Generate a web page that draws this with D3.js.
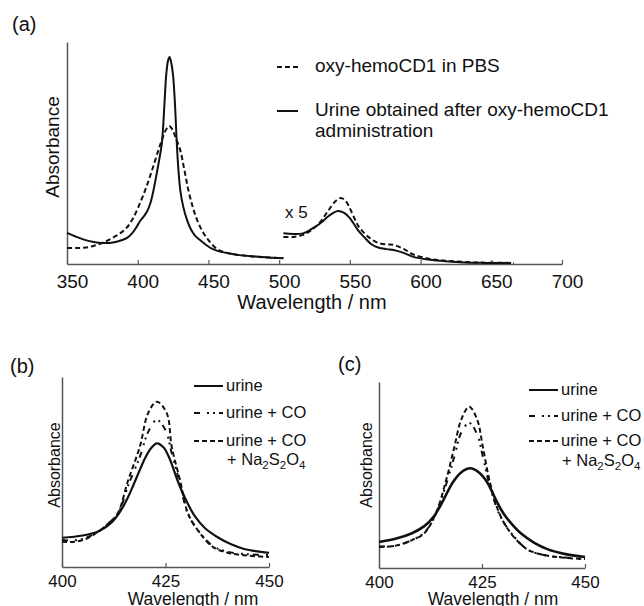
<!DOCTYPE html>
<html>
<head>
<meta charset="utf-8">
<script src="https://cdn.jsdelivr.net/npm/d3@7"></script>
<style>
  body { margin: 0; background: #fff; }
  svg { display: block; }
  text { font-family: "Liberation Sans", Arial, Helvetica, sans-serif; fill: #111; }
</style>
</head>
<body>
<div class="chart"></div>
<script>

// ---------- data (wavelength nm, absorbance in arbitrary units) ----------

// panel (a), 350-500 nm
const aPBS1 = [[350,0.072],[357,0.072],[363,0.074],[368,0.080],[372,0.088],[376,0.098],[380,0.110],[384,0.124],[388,0.140],[392,0.162],[396,0.198],[400,0.250],[405.3,0.333],[410,0.42],[414.7,0.514],[418,0.575],[420.3,0.608],[422.3,0.622],[424.3,0.608],[426.5,0.575],[430,0.514],[432.8,0.43],[435.8,0.333],[439,0.255],[442,0.198],[446,0.145],[450,0.108],[456,0.068],[462,0.052],[470,0.042],[480,0.035],[490,0.030],[503,0.027]]
const aUrine1 = [[350,0.140],[356,0.124],[362,0.110],[368,0.100],[374,0.095],[380,0.095],[385,0.100],[389,0.108],[392.5,0.118],[396,0.138],[399,0.165],[401.8,0.195],[404,0.212],[406.5,0.235],[409,0.275],[411.2,0.333],[413.5,0.41],[415.5,0.48],[417,0.54],[418,0.62],[418.8,0.71],[420.2,0.855],[421.4,0.915],[422.5,0.932],[423.6,0.91],[424.9,0.855],[426,0.76],[426.8,0.66],[427.5,0.56],[428.5,0.45],[430.1,0.333],[432.3,0.255],[434.9,0.198],[437.5,0.158],[440.5,0.128],[444,0.108],[448,0.088],[452,0.070],[457,0.058],[464,0.048],[472,0.040],[482,0.034],[492,0.029],[503,0.026]]

// panel (a), 500-700 nm (x 5)
const aPBS2 = [[503,0.122],[510,0.122],[517,0.131],[523,0.153],[529,0.189],[535,0.243],[540,0.284],[543.6,0.297],[547,0.284],[552.8,0.212],[556,0.171],[560,0.140],[565,0.113],[570,0.095],[576,0.088],[581,0.086],[588,0.068],[595,0.043],[605,0.025],[612,0.018],[620,0.014],[631,0.009],[645,0.006],[666,0.005]]
const aUrine2 = [[503,0.138],[510,0.135],[517,0.138],[523,0.158],[529.4,0.185],[535,0.216],[541.5,0.239],[546,0.230],[550,0.207],[555.7,0.153],[560,0.122],[565,0.090],[570,0.074],[576,0.067],[581,0.063],[588,0.050],[595,0.032],[605,0.020],[612,0.016],[620,0.011],[631,0.007],[645,0.005],[664,0.004]]

const aTicks = [350, 400, 450, 500, 550, 600, 650, 700]
const aLegend = ["oxy-hemoCD1 in PBS", "Urine obtained after oxy-hemoCD1", "administration"]

// panel (b)
const bUrine = [[400,0.154],[405,0.166],[409,0.19],[412,0.235],[414,0.29],[416,0.37],[418,0.47],[420,0.57],[421.5,0.625],[422.9,0.651],[424.5,0.63],[426,0.57],[428,0.45],[430,0.35],[432,0.27],[434.5,0.205],[437.5,0.158],[441,0.118],[444,0.095],[450,0.074]]
const bCO = [[400,0.142],[403,0.14],[406,0.155],[409,0.19],[411.5,0.235],[413.5,0.28],[416,0.43],[418.8,0.58],[420.8,0.71],[422.9,0.774],[425,0.72],[426.5,0.6],[428.5,0.44],[430.4,0.28],[433.3,0.18],[436.5,0.11],[440,0.08],[445,0.067],[450,0.063]]
const bCODithionite = [[400,0.133],[403,0.133],[406,0.15],[409,0.19],[411.5,0.235],[413.5,0.284],[416,0.458],[418.8,0.633],[420.8,0.81],[422.9,0.87],[425.3,0.81],[426.5,0.633],[428.5,0.458],[430.4,0.284],[433.3,0.179],[436.5,0.105],[440,0.075],[445,0.06],[450,0.053]]

// panel (c)
const cUrine = [[400,0.140],[404,0.157],[408,0.187],[411,0.225],[413.4,0.28],[415.5,0.36],[417.9,0.46],[420,0.515],[422.1,0.536],[424.2,0.515],[426.3,0.46],[428.3,0.37],[430.3,0.29],[432.3,0.235],[434.5,0.185],[437.7,0.135],[441,0.1],[445,0.076],[450,0.059]]
const cCO = [[400,0.115],[404,0.12],[408,0.15],[411,0.19],[413.8,0.29],[416.3,0.45],[418.3,0.6],[420,0.73],[421.9,0.78],[423.8,0.72],[425.2,0.6],[426.8,0.45],[429.2,0.29],[432,0.19],[436,0.1],[440,0.07],[445,0.056],[450,0.05]]
const cCODithionite = [[400,0.113],[404,0.12],[408,0.15],[411,0.187],[413.8,0.294],[416.3,0.473],[418.3,0.652],[420,0.8],[421.9,0.867],[423.8,0.8],[425.2,0.652],[426.8,0.473],[429.2,0.294],[432,0.187],[436,0.1],[440,0.07],[445,0.055],[450,0.048]]

const bcTicks = [400, 425, 450]
const bcLegend = ["urine", "urine + CO", "urine + CO"]

// ---------- drawing ----------

const svg = d3.select(".chart").append("svg")
    .attr("width", 644)
    .attr("height", 606)

const axisColor = "#555"
const dashed = "5,3"
const dashDot = "6,7,2,4,2,4"

function styleAxis(g, fontSize) {
    g.select(".domain").attr("stroke", axisColor).attr("stroke-width", 1.5)
    g.selectAll(".tick line").attr("stroke", axisColor).attr("stroke-width", 1.2)
    g.selectAll(".tick text")
        .attr("fill", "#111")
        .style("font-family", '"Liberation Sans", Arial, Helvetica, sans-serif')
        .style("font-size", fontSize + "px")
}

function drawCurve(g, data, x, y, dash, width) {
    let line = d3.line()
        .x(function (d) { return x(d[0]) })
        .y(function (d) { return y(d[1]) })
        .curve(d3.curveCatmullRom.alpha(0.5))
    g.append("path")
        .datum(data)
        .attr("fill", "none")
        .attr("stroke", "#111")
        .attr("stroke-width", width)
        .attr("stroke-dasharray", dash)
        .attr("d", line)
}

// ---- panel (a)
function PanelA() {
    let x = d3.scaleLinear().domain([350, 700]).range([67, 562])
    let y = d3.scaleLinear().domain([0, 1]).range([264, 42])
    let g = svg.append("g")

    let xAxis = d3.axisBottom(x)
        .tickValues(aTicks)
        .tickSize(-4)
        .tickSizeOuter(0)
        .tickPadding(11)
        .tickFormat(d3.format("d"))
    let gx = g.append("g")
        .attr("transform", `translate(0, ${y(0)})`)
        .call(xAxis)
    styleAxis(gx, 19)
    gx.selectAll(".tick text").attr("dx", 5)

    let gy = g.append("g")
        .attr("transform", `translate(${x(350)}, 0)`)
        .call(d3.axisLeft(y).tickValues([]).tickSizeOuter(0))
    styleAxis(gy, 19)

    drawCurve(g, aPBS1, x, y, dashed, 2)
    drawCurve(g, aUrine1, x, y, null, 2)
    drawCurve(g, aPBS2, x, y, dashed, 2)
    drawCurve(g, aUrine2, x, y, null, 2)

    g.append("text").attr("x", 285).attr("y", 218)
        .style("font-size", "17px").text("x 5")

    // legend
    g.append("line").attr("x1", 277).attr("x2", 298).attr("y1", 67).attr("y2", 67)
        .attr("stroke", "#111").attr("stroke-width", 2).attr("stroke-dasharray", dashed)
    g.append("line").attr("x1", 277).attr("x2", 298).attr("y1", 111).attr("y2", 111)
        .attr("stroke", "#111").attr("stroke-width", 2)
    g.append("text").attr("x", 315).attr("y", 72).style("font-size", "19px").text(aLegend[0])
    g.append("text").attr("x", 315).attr("y", 116).style("font-size", "19px").text(aLegend[1])
    g.append("text").attr("x", 315).attr("y", 137).style("font-size", "19px").text(aLegend[2])

    g.append("text").attr("x", 12).attr("y", 31).style("font-size", "20px").text("(a)")
    g.append("text")
        .attr("transform", "translate(59,147) rotate(-90)")
        .attr("text-anchor", "middle")
        .style("font-size", "19px")
        .text("Absorbance")
    g.append("text").attr("x", 312).attr("y", 309)
        .attr("text-anchor", "middle")
        .style("font-size", "20px")
        .text("Wavelength / nm")
}

// ---- panels (b) and (c)
function PanelBC(opts) {
    let x = d3.scaleLinear().domain([400, 450]).range([opts.x0, opts.x1])
    let y = d3.scaleLinear().domain([0, 1]).range([opts.y0, opts.y1])
    let g = svg.append("g")

    let gx = g.append("g")
        .attr("transform", `translate(0, ${opts.y0})`)
        .call(d3.axisBottom(x).tickValues(bcTicks).tickSize(-4).tickSizeOuter(0).tickPadding(8))
    styleAxis(gx, 17)

    let gy = g.append("g")
        .attr("transform", `translate(${opts.x0}, 0)`)
        .call(d3.axisLeft(y).tickValues([]).tickSizeOuter(0))
    styleAxis(gy, 17)

    drawCurve(g, opts.urine, x, y, null, opts.solidWidth)
    drawCurve(g, opts.co, x, y, dashDot, 2)
    drawCurve(g, opts.dith, x, y, dashed, 2)

    // legend
    let dashes = [null, dashDot, dashed]
    bcLegend.forEach(function (label, i) {
        g.append("line")
            .attr("x1", opts.lx).attr("x2", opts.lx + 29)
            .attr("y1", opts.rows[i]).attr("y2", opts.rows[i])
            .attr("stroke", "#111").attr("stroke-width", 2)
            .attr("stroke-dasharray", dashes[i])
        g.append("text")
            .attr("x", opts.lx + 32).attr("y", opts.rows[i] + 5)
            .style("font-size", "16.5px")
            .text(label)
    })
    let na = g.append("text")
        .attr("x", opts.lx + 33).attr("y", opts.rows[3])
        .style("font-size", "16.5px")
    na.append("tspan").text("+ Na")
    na.append("tspan").attr("dy", 4).style("font-size", "11.5px").text("2")
    na.append("tspan").attr("dy", -4).text("S")
    na.append("tspan").attr("dy", 4).style("font-size", "11.5px").text("2")
    na.append("tspan").attr("dy", -4).text("O")
    na.append("tspan").attr("dy", 4).style("font-size", "11.5px").text("4")

    g.append("text").attr("x", opts.labelX).attr("y", opts.labelY)
        .style("font-size", "20px").text(opts.label)
    g.append("text")
        .attr("transform", `translate(${opts.absX},465) rotate(-90)`)
        .attr("text-anchor", "middle")
        .style("font-size", "16px")
        .text("Absorbance")
    g.append("text").attr("x", opts.wlX).attr("y", 605)
        .attr("text-anchor", "middle")
        .style("font-size", "17.5px")
        .text("Wavelength / nm")
}

PanelA()

PanelBC({
    x0: 62, x1: 269, y0: 567, y1: 377,
    urine: bUrine, co: bCO, dith: bCODithionite, solidWidth: 2.2,
    lx: 194, rows: [386, 413, 441, 465],
    label: "(b)", labelX: 10, labelY: 373,
    absX: 60, wlX: 193
})

PanelBC({
    x0: 379, x1: 585, y0: 568, y1: 382,
    urine: cUrine, co: cCO, dith: cCODithionite, solidWidth: 2.6,
    lx: 529, rows: [390, 416, 441, 466],
    label: "(c)", labelX: 338, labelY: 371,
    absX: 372, wlX: 493
})

</script>
</body>
</html>
